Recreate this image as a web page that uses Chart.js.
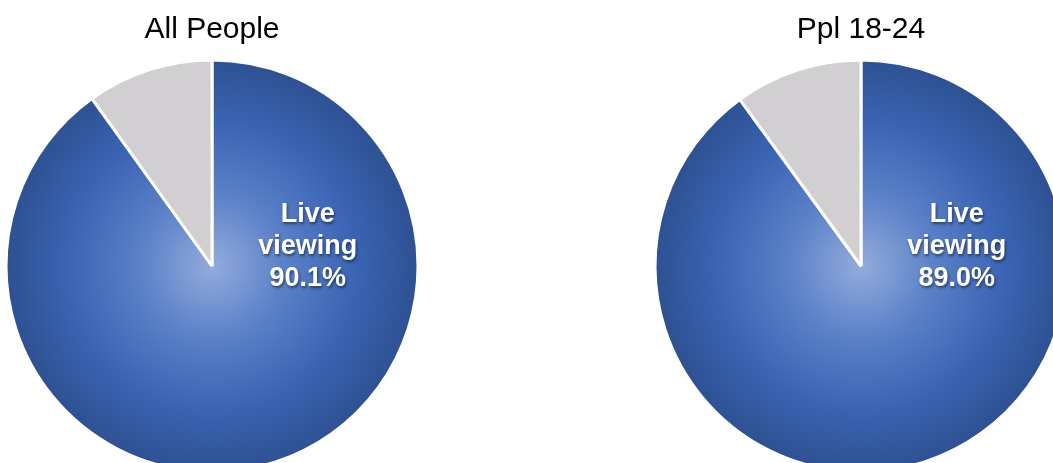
<!DOCTYPE html>
<html>
<head>
<meta charset="utf-8">
<script src="https://cdn.jsdelivr.net/npm/chart.js@4"></script>
<style>
  html, body { margin: 0; padding: 0; width: 1053px; height: 463px; overflow: hidden; background: #fff; }
  .pie-box { position: absolute; top: 0; width: 440px; height: 540px; }
</style>
</head>
<body>
<div class="pie-box" style="left:-8px"><canvas id="pie-all"></canvas></div>
<div class="pie-box" style="left:641px"><canvas id="pie-young"></canvas></div>
<script>
// values
const titles = ["All People", "Ppl 18-24"];
const categories = ["Live viewing", "Other"];
const liveShare = [90.1, 89.0];
const otherShare = [9.9, 9.9];

const canvasIds = ["pie-all", "pie-young"];
const PIE_RADIUS = 206;
const GREY = '#d1cfd1';

function sliceFill(ctx) {
  if (ctx.dataIndex !== 0) return GREY;
  const chart = ctx.chart;
  const area = chart.chartArea;
  if (!area) return '#3a64b3';
  const cx = (area.left + area.right) / 2;
  const cy = (area.top + area.bottom) / 2;
  const g = chart.ctx.createRadialGradient(cx, cy, 0, cx, cy, PIE_RADIUS);
  g.addColorStop(0, '#93abdc');
  g.addColorStop(0.35, '#5b81c8');
  g.addColorStop(0.7, '#3a63b3');
  g.addColorStop(1, '#2e5192');
  return g;
}

// white bold label inside the live viewing slice
const sliceLabel = {
  id: 'sliceLabel',
  afterDraw(chart) {
    const area = chart.chartArea;
    const cx = (area.left + area.right) / 2;
    const cy = (area.top + area.bottom) / 2;
    const value = chart.data.datasets[0].data[0];
    const words = chart.data.labels[0].split(' ');
    const lines = [words[0], words[1], value.toFixed(1) + '%'];
    const c = chart.ctx;
    c.save();
    c.font = 'bold 27px "Liberation Sans", Arial, sans-serif';
    c.textAlign = 'center';
    c.textBaseline = 'middle';
    c.fillStyle = '#ffffff';
    c.shadowColor = 'rgba(0,0,0,0.5)';
    c.shadowOffsetX = 1;
    c.shadowOffsetY = 2;
    c.shadowBlur = 3;
    const x = cx + PIE_RADIUS * 0.465;
    const y0 = cy - PIE_RADIUS * 0.25;
    lines.forEach((t, i) => c.fillText(t, x, y0 + i * 32));
    c.restore();
  }
};

canvasIds.forEach((id, i) => {
  const ctx = document.getElementById(id).getContext('2d');
  new Chart(ctx, {
    type: 'pie',
    data: {
      labels: categories,
      datasets: [{
        data: [liveShare[i], otherShare[i]],
        backgroundColor: sliceFill,
        borderColor: '#ffffff',
        borderWidth: 3,
        hoverOffset: 0
      }]
    },
    options: {
      responsive: true,
      maintainAspectRatio: false,
      animation: false,
      radius: PIE_RADIUS,
      layout: { padding: { bottom: 62 } },
      plugins: {
        legend: { display: false },
        tooltip: { enabled: false },
        title: {
          display: true,
          text: titles[i],
          color: '#000',
          font: { family: '"Liberation Sans", Arial, sans-serif', size: 30, weight: 'normal' },
          padding: { top: 12, bottom: 6 }
        }
      }
    },
    plugins: [sliceLabel]
  });
});
</script>
</body>
</html>
